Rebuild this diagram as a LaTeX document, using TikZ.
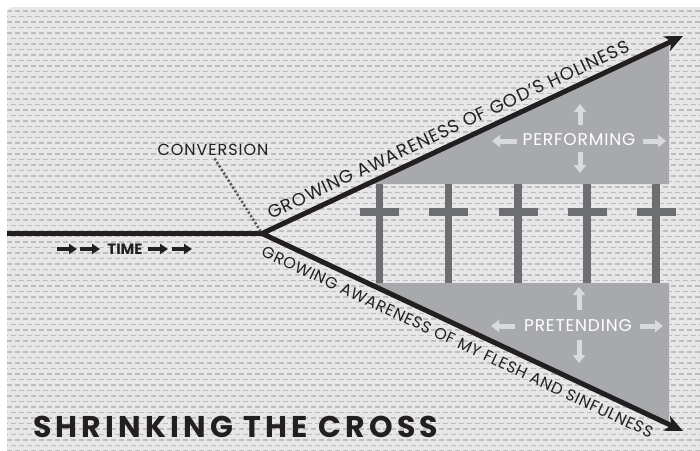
\documentclass[tikz,border=0pt]{standalone}
\usepackage{fontspec}
\setmainfont{Poppins}
\usetikzlibrary{arrows.meta}
\definecolor{bgcol}{HTML}{E7E7E8}
\definecolor{dashcol}{HTML}{BDBEC0}
\definecolor{regioncol}{HTML}{A7A9AC}
\definecolor{crosscol}{HTML}{6D6E71}
\definecolor{inkcol}{HTML}{231F20}
\definecolor{lightarr}{HTML}{D9DADB}
\definecolor{dotcol}{HTML}{58595B}
\newcommand\trk[1]{\addfontfeatures{LetterSpace=#1}}
\begin{document}
\begin{tikzpicture}[x=1pt,y=-1pt,
  mainline/.style={draw=inkcol, line width=5pt},
  tiparrow/.style={mainline, {Stealth[length=18pt,width=16pt,inset=5pt]}-{Stealth[length=18pt,width=16pt,inset=5pt]}},
  lightarrow/.style={draw=lightarr, line width=5pt, -{Triangle[length=8pt,width=12pt]}},
  timearrow/.style={draw=inkcol, line width=3.5pt, -{Triangle[length=8pt,width=10pt]}},
  dotline/.style={draw=dotcol, line width=2.5pt, dash pattern=on 2.2pt off 2pt},
  bgdash/.style={draw=dashcol, line width=1.3pt, dash pattern=on 5pt off 3pt},
  regionlabel/.style={text=white, inner sep=0pt, font=\fontsize{17}{17}\selectfont\trk{5}},
  linelabel/.style={text=inkcol, inner sep=0pt}
]
\useasboundingbox (0,0) rectangle (700,450);
\clip (0,0) rectangle (700,450);
\fill[white] (0,0) rectangle (700,450);
% background panel
\fill[bgcol, rounded corners=6pt] (7,460) -- (7,7) -- (710,7) -- (710,460) -- cycle;
\begin{scope}
\clip[rounded corners=6pt] (7,460) -- (7,7) -- (710,7) -- (710,460) -- cycle;
\foreach \i in {0,...,80}{
  \pgfmathsetmacro\yy{11+5.5*\i}
  \pgfmathsetmacro\ph{mod(\i,2)*4}
  \draw[bgdash, dash phase=\ph pt] (7,\yy) -- (700,\yy);
}
\end{scope}
% gray regions
\fill[regioncol] (367,184) -- (669,184) -- (669,43) -- cycle;
\fill[regioncol] (369,283) -- (669,283) -- (669,424) -- cycle;
% crosses
\foreach \cx in {379.5,448.5,518,587,656}{
  \fill[crosscol] (\cx-3.75,184) rectangle (\cx+3.75,283);
  \fill[crosscol] (\cx-19.5,208) rectangle (\cx+19.5,216);
}
% main lines
\coordinate (S) at (7,233.5);
\coordinate (O) at (262,233.5);
\coordinate (U) at (683,36);
\coordinate (L) at (683,431);
\draw[mainline] (S) -- (O);
\draw[tiparrow] (U) -- (O) -- (L);
% conversion
\node[text=inkcol, inner sep=0pt, font=\fontsize{16}{16}\selectfont\trk{6}] (conv) at (213,150) {CONVERSION};
\draw[dotline, shorten <=3pt, shorten >=3pt] (conv.south) -- (O);
% time
\node[text=inkcol, inner sep=0pt, font=\bfseries\fontsize{15}{15}\selectfont] (time) at (125,249) {TIME};
\draw[timearrow] (57,249) -- (77,249);
\draw[timearrow] (80,249) -- (100,249);
\draw[timearrow] (148,249) -- (168,249);
\draw[timearrow] (172,249) -- (192,249);
% line labels
\node[linelabel, rotate=25.13, font=\fontsize{18}{18}\selectfont\trk{4.5}] (godlabel) at (448.4,129.4) {GROWING AWARENESS OF GOD’S HOLINESS};
\node[linelabel, rotate=-25.13, font=\fontsize{16}{16}\selectfont\trk{4}] (fleshlabel) at (457.5,341.8) {GROWING AWARENESS OF MY FLESH AND SINFULNESS};
% performing
\node[regionlabel] (perf) at (579,140) {PERFORMING};
\draw[lightarrow] (580,125) -- (580,104);
\draw[lightarrow] (580,152) -- (580,173);
\draw[lightarrow] (517,141) -- (492,141);
\draw[lightarrow] (643,141) -- (666,141);
% pretending
\node[regionlabel] (pret) at (578,326) {PRETENDING};
\draw[lightarrow] (579,310) -- (579,287);
\draw[lightarrow] (579,340) -- (579,363);
\draw[lightarrow] (515,326) -- (491,326);
\draw[lightarrow] (640,326) -- (663,326);
% title
\node[text=inkcol, inner sep=0pt, anchor=base west, font=\bfseries\fontsize{30}{30}\selectfont\trk{14}] (title) at (33,437) {SHRINKING THE CROSS};
\end{tikzpicture}
\end{document}
